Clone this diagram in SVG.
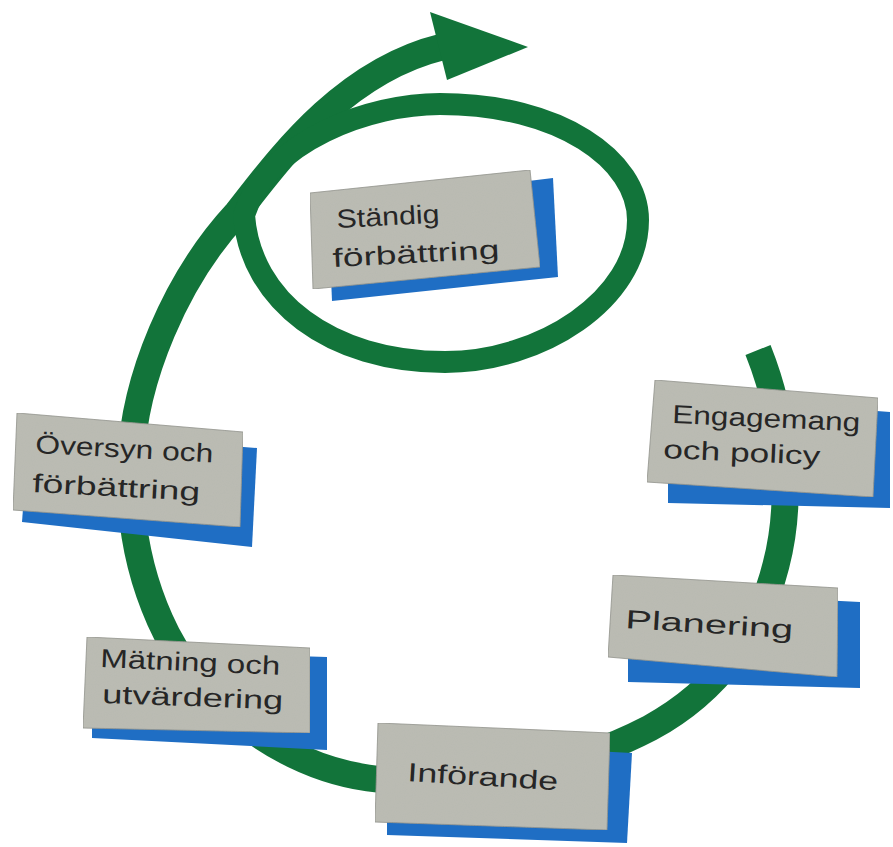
<svg xmlns="http://www.w3.org/2000/svg" width="893" height="847" viewBox="0 0 893 847">
<defs>
<filter id="paper" x="0" y="0" width="1" height="1">
  <feTurbulence type="fractalNoise" baseFrequency="0.9" numOctaves="2" seed="3" result="n"/>
  <feColorMatrix in="n" type="matrix" values="0 0 0 0 0.45  0 0 0 0 0.45  0 0 0 0 0.42  0 0 0 0.35 -0.05" result="spk"/>
  <feComposite in="spk" in2="SourceGraphic" operator="in" result="spk2"/>
  <feMerge><feMergeNode in="SourceGraphic"/><feMergeNode in="spk2"/></feMerge>
</filter>
</defs>
<style>
.band{fill:none;stroke:#12743a;stroke-linecap:butt;stroke-linejoin:round}
.card{fill:#bbbcb4;stroke:#8e8f88;stroke-width:0.8}
.shadow{fill:#1f6ec4}
.lbl{font-family:"Liberation Sans","DejaVu Sans",sans-serif;font-size:26px;fill:#262626}
</style>
<rect width="893" height="847" fill="#ffffff"/>
<g id="connectors">
  <path class="band" stroke-width="27" d="M 758,350 C 786,420 793,500 776,565 C 760,630 720,690 650,728 C 560,775 450,790 368,778 C 280,765 195,700 160,620 C 140,575 128,520 131,460 C 134,380 175,280 237,213 C 275,165 340,72 442,47"/>
  <path class="band" stroke-width="22" d="M 244,215 C 268,140 370,104 440,104 C 560,104 638,160 638,220 C 638,300 540,362 445,362 C 330,362 250,300 244,215 Z"/>
  <polygon fill="#12743a" points="430,12 528,47 447,80"/>
</g>
<g id="node-standig">
  <polygon class="shadow" points="328,205 553,178 558,277 332,301"/>
  <polygon class="card" filter="url(#paper)" points="310,193 530,170 540,267 313,289"/>
  <text class="lbl" transform="rotate(-3 337 228)" x="337" y="228" textLength="103" lengthAdjust="spacingAndGlyphs">Ständig</text>
  <text class="lbl" transform="rotate(-3 333 267)" x="333" y="267" textLength="167" lengthAdjust="spacingAndGlyphs">förbättring</text>
</g>
<g id="node-oversyn">
  <polygon class="shadow" points="29,430 257,448 252,547 22,522"/>
  <polygon class="card" filter="url(#paper)" points="17,413 243,432 240,527 13,510"/>
  <text class="lbl" transform="rotate(3 35 453)" x="35" y="453" textLength="178" lengthAdjust="spacingAndGlyphs">Översyn och</text>
  <text class="lbl" transform="rotate(3 32 492)" x="32" y="492" textLength="168" lengthAdjust="spacingAndGlyphs">förbättring</text>
</g>
<g id="node-engagemang">
  <polygon class="shadow" points="668,395 890,412 890,508 668,503"/>
  <polygon class="card" filter="url(#paper)" points="655,380 878,398 873,497 647,482"/>
  <text class="lbl" transform="rotate(2.5 672 423)" x="672" y="423" textLength="188" lengthAdjust="spacingAndGlyphs">Engagemang</text>
  <text class="lbl" transform="rotate(2.5 663 458)" x="663" y="458" textLength="157" lengthAdjust="spacingAndGlyphs">och policy</text>
</g>
<g id="node-planering">
  <polygon class="shadow" points="628,590 860,602 860,688 628,682"/>
  <polygon class="card" filter="url(#paper)" points="613,575 838,588 837,677 608,657"/>
  <text class="lbl" transform="rotate(3.5 625 628)" x="625" y="628" textLength="168" lengthAdjust="spacingAndGlyphs">Planering</text>
</g>
<g id="node-matning">
  <polygon class="shadow" points="92,650 327,657 327,750 92,738"/>
  <polygon class="card" filter="url(#paper)" points="87,637 310,648 310,733 83,728"/>
  <text class="lbl" transform="rotate(2.5 100 667)" x="100" y="667" textLength="180" lengthAdjust="spacingAndGlyphs">Mätning och</text>
  <text class="lbl" transform="rotate(2 102 703)" x="102" y="703" textLength="181" lengthAdjust="spacingAndGlyphs">utvärdering</text>
</g>
<g id="node-inforande">
  <polygon class="shadow" points="387,740 632,753 627,843 387,835"/>
  <polygon class="card" filter="url(#paper)" points="378,723 610,733 607,830 375,822"/>
  <text class="lbl" transform="rotate(3.5 407 781)" x="407" y="781" textLength="151" lengthAdjust="spacingAndGlyphs">Införande</text>
</g>
</svg>
